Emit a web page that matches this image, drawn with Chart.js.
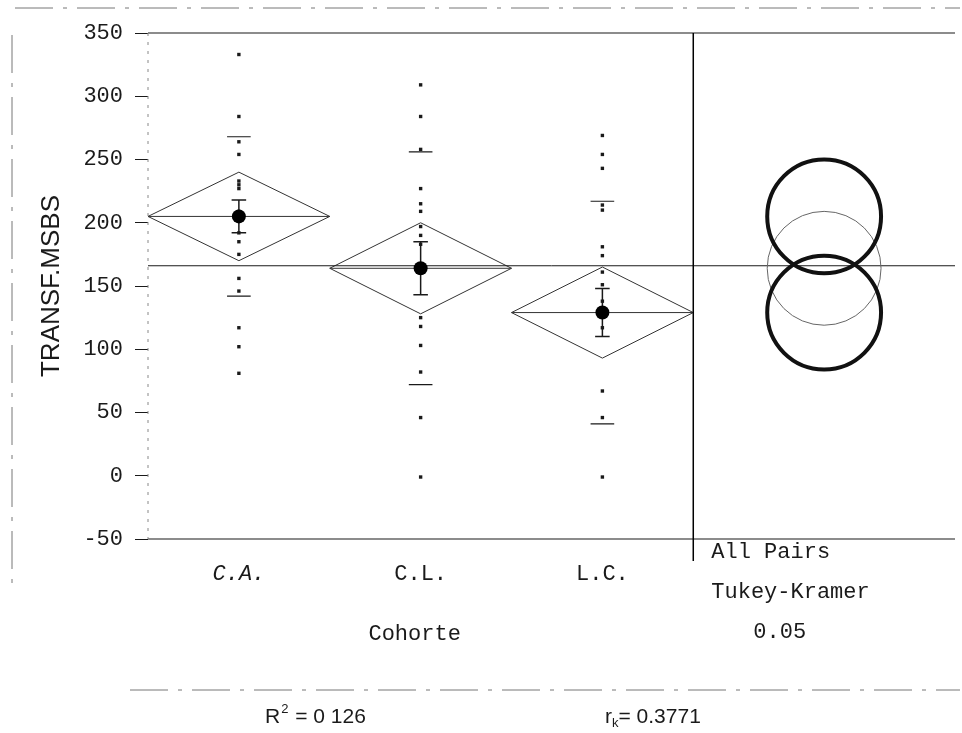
<!DOCTYPE html>
<html>
<head>
<meta charset="utf-8">
<title>TRANSF.MSBS por Cohorte</title>
<script src="https://cdn.jsdelivr.net/npm/chart.js@4.4.1/dist/chart.umd.min.js"></script>
<style>
  html, body { margin: 0; padding: 0; background: #fff; }
  canvas { display: block; }
</style>
</head>
<body>
<canvas id="oneway" width="962" height="733"></canvas>
<script>
// Cohortes y valores observados de TRANSF.MSBS
const cohortes = ['C.A.', 'C.L.', 'L.C.'];
const valoresCA = [333, 284, 264, 254, 233, 230, 227, 209, 192, 185, 175, 156, 146, 117, 102, 81];
const valoresCL = [309, 284, 258, 227, 215, 209, 197, 190, 183, 125, 118, 103, 82, 46, -1];
const valoresLC = [269, 254, 243, 214, 210, 181, 174, 161, 151, 138, 117, 67, 46, -1];

// Resumen por grupo (ANOVA de una vía)
const medias = [205, 164, 129];
const ic95 = [35, 36, 36];        // semiamplitud del diamante
const errorEst = [13, 21, 19];    // barras de error de la media
const desvEst = [63, 92, 88];     // marcas de desviación estándar
const mediaGeneral = 166;

// Círculos de comparación Tukey-Kramer
const radioTukey = [45, 45, 45];
const marcados = [true, false, true];

const yTicks = [-50, 0, 50, 100, 150, 200, 250, 300, 350];

const MONO = '"Liberation Mono", "Courier New", monospace';
const SANS = '"Liberation Sans", Arial, sans-serif';
const X_MAX = 4.44;      // ancho total del eje x (3 grupos + panel de círculos)
const X_CIRC = 3.72;     // columna de los círculos
const INK = '#1a1a1a';

const grupos = [valoresCA, valoresCL, valoresLC];
const datasets = [];

// línea de la media general
datasets.push({
  data: [{x: 0, y: mediaGeneral}, {x: X_MAX, y: mediaGeneral}],
  showLine: true, borderColor: INK, borderWidth: 1, pointRadius: 0, order: 2
});

grupos.forEach((vals, i) => {
  const c = i + 0.5, m = medias[i], h = ic95[i], sd = desvEst[i], se = errorEst[i];
  // diamante de medias
  datasets.push({
    data: [{x: i, y: m}, {x: c, y: m + h}, {x: i + 1, y: m}, {x: c, y: m - h}, {x: i, y: m}],
    showLine: true, borderColor: '#333', borderWidth: 1, pointRadius: 0, order: 2
  });
  // línea de la media del grupo
  datasets.push({
    data: [{x: i, y: m}, {x: i + 1, y: m}],
    showLine: true, borderColor: '#333', borderWidth: 1, pointRadius: 0, order: 2
  });
  // marcas de desviación estándar
  datasets.push({
    data: [{x: c - 0.065, y: m + sd}, {x: c + 0.065, y: m + sd}, {x: c, y: null},
           {x: c - 0.065, y: m - sd}, {x: c + 0.065, y: m - sd}],
    showLine: true, spanGaps: false, borderColor: INK, borderWidth: 1.2, pointRadius: 0, order: 2
  });
  // barras de error de la media
  datasets.push({
    data: [{x: c - 0.04, y: m + se}, {x: c + 0.04, y: m + se}, {x: c, y: null},
           {x: c, y: m + se}, {x: c, y: m - se}, {x: c, y: null},
           {x: c - 0.04, y: m - se}, {x: c + 0.04, y: m - se}],
    showLine: true, spanGaps: false, borderColor: INK, borderWidth: 1.5, pointRadius: 0, order: 1
  });
  // observaciones
  datasets.push({
    data: vals.map(v => ({x: c, y: v})),
    pointStyle: 'rect', pointRadius: 2.4, backgroundColor: INK, borderWidth: 0, order: 1
  });
  // punto de la media
  datasets.push({
    data: [{x: c, y: m}],
    pointStyle: 'circle', pointRadius: 7, backgroundColor: '#000', borderWidth: 0, order: 0
  });
  // círculo de comparación
  datasets.push({
    data: [{x: X_CIRC, y: m}],
    pointStyle: 'circle',
    pointRadius: ctx => {
      const ys = ctx.chart.scales.y;
      return ys ? Math.abs(ys.getPixelForValue(m + radioTukey[i]) - ys.getPixelForValue(m)) : 50;
    },
    backgroundColor: 'rgba(0,0,0,0)',
    borderColor: marcados[i] ? '#111' : '#666',
    borderWidth: marcados[i] ? 4 : 1,
    order: marcados[i] ? 0 : 1
  });
});

function linea(ctx, x1, y1, x2, y2) {
  ctx.beginPath();
  ctx.moveTo(x1, y1);
  ctx.lineTo(x2, y2);
  ctx.stroke();
}

// marco, separador y textos del informe
const decoracion = {
  id: 'decoracion',
  afterDraw(chart) {
    const {ctx, chartArea: ca, scales: {x}} = chart;
    ctx.save();
    ctx.strokeStyle = INK;
    ctx.lineWidth = 1.2;
    linea(ctx, ca.left, ca.top, ca.right, ca.top);
    linea(ctx, ca.left, ca.bottom, ca.right, ca.bottom);
    ctx.strokeStyle = '#888';
    ctx.lineWidth = 1;
    ctx.setLineDash([3, 6]);
    linea(ctx, ca.left, ca.top, ca.left, ca.bottom);
    ctx.setLineDash([]);

    // separador del panel de comparaciones
    const xDiv = x.getPixelForValue(3);
    ctx.strokeStyle = '#000';
    ctx.lineWidth = 1.5;
    linea(ctx, xDiv, ca.top, xDiv, ca.bottom + 22);

    ctx.fillStyle = INK;
    ctx.font = '22px ' + MONO;
    ctx.textBaseline = 'middle';
    ctx.textAlign = 'center';
    ctx.fillText('Cohorte', (x.getPixelForValue(0) + xDiv) / 2 - 6, 634);
    ctx.textAlign = 'left';
    ctx.fillText('All Pairs', xDiv + 18, 552);
    ctx.fillText('Tukey-Kramer', xDiv + 18, 592);
    ctx.fillText('0.05', xDiv + 60, 632);

    // estadísticos
    ctx.font = '21px ' + SANS;
    let px = 265;
    ctx.fillText('R', px, 717);
    px += ctx.measureText('R').width;
    ctx.font = '13px ' + SANS;
    ctx.fillText('2', px + 1, 709);
    px += ctx.measureText('2').width + 2;
    ctx.font = '21px ' + SANS;
    ctx.fillText(' = 0 126', px, 717);

    px = 605;
    ctx.fillText('r', px, 717);
    px += ctx.measureText('r').width;
    ctx.font = '13px ' + SANS;
    ctx.fillText('k', px, 723);
    px += ctx.measureText('k').width;
    ctx.font = '21px ' + SANS;
    ctx.fillText('= 0.3771', px, 717);

    // bordes del recuadro del informe
    ctx.strokeStyle = '#777';
    ctx.lineWidth = 1;
    ctx.setLineDash([38, 10, 4, 10]);
    linea(ctx, 15, 8, 960, 8);
    linea(ctx, 12, 35, 12, 585);
    linea(ctx, 130, 690, 960, 690);
    ctx.restore();
  }
};

new Chart(document.getElementById('oneway'), {
  type: 'scatter',
  data: { datasets },
  plugins: [decoracion],
  options: {
    responsive: false,
    animation: false,
    devicePixelRatio: 1,
    layout: { padding: { top: 33, right: 4, left: 0, bottom: 0 } },
    plugins: { legend: { display: false }, tooltip: { enabled: false } },
    scales: {
      x: {
        type: 'linear',
        min: 0,
        max: X_MAX,
        grid: { drawOnChartArea: false, drawTicks: false },
        border: { display: false },
        afterBuildTicks: scale => {
          scale.ticks = cohortes.map((_, i) => ({ value: i + 0.5 }));
        },
        afterFit: scale => { scale.height = 194; },
        ticks: {
          padding: 22,
          maxRotation: 0,
          color: INK,
          font: ctx => ({ family: MONO, size: 22, style: ctx.index === 0 ? 'italic' : 'normal' }),
          callback: (v, i) => cohortes[i]
        }
      },
      y: {
        min: -50,
        max: 350,
        afterBuildTicks: scale => {
          scale.ticks = yTicks.map(v => ({ value: v }));
        },
        afterFit: scale => { scale.width = 148; },
        grid: { drawOnChartArea: false, drawTicks: true, tickLength: 13, color: INK },
        border: { display: false },
        ticks: {
          padding: 12,
          color: INK,
          font: { family: MONO, size: 22 }
        },
        title: {
          display: true,
          text: 'TRANSF.MSBS',
          color: INK,
          font: { family: SANS, size: 26 },
          padding: { top: 36, bottom: 0 }
        }
      }
    }
  }
});
</script>
</body>
</html>
